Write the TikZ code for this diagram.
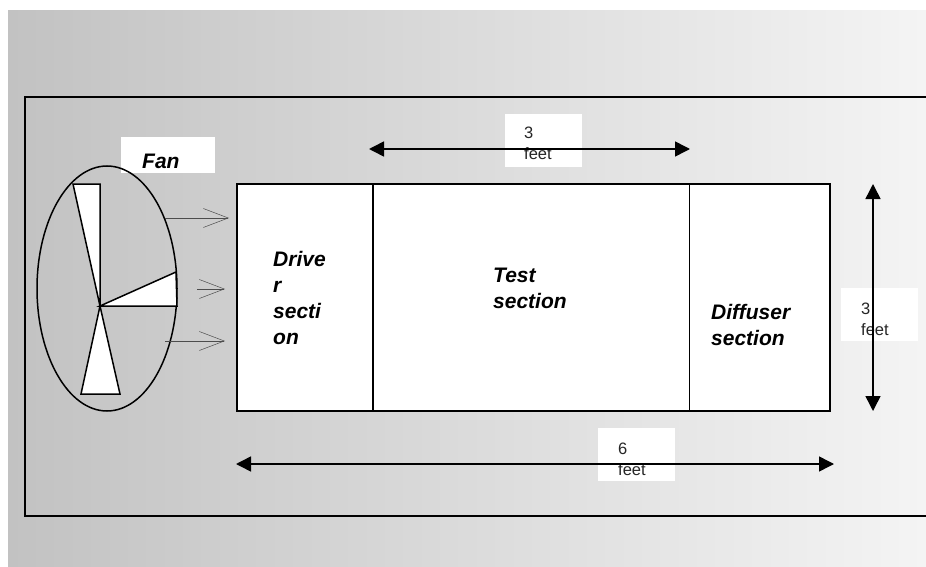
\documentclass[tikz,border=0pt]{standalone}
\usepackage{fontspec}
\setmainfont{Liberation Sans}
\usetikzlibrary{arrows.meta}
\definecolor{gleft}{RGB}{194,194,194}
\definecolor{gright}{RGB}{244,244,244}
\tikzset{
  x=1pt,y=-1pt,
  heavy/.style={draw=black,line width=1.5pt},
  blade/.style={draw=black,line width=1.5pt,fill=white,line join=miter},
  dim/.style={black,line width=1.5pt,{Triangle[length=15pt,width=15pt]}-{Triangle[length=15pt,width=15pt]}},
  flow/.style={draw=black!70,line width=.5pt,-{Straight Barb[length=25pt,width=19pt,line width=.5pt]}},
  whitebox/.style={fill=white,draw=none,inner sep=0pt,outer sep=0pt,anchor=north west},
  secbox/.style={draw=black,line width=1.5pt,fill=white,minimum height=227pt,inner sep=0pt,outer sep=0pt,anchor=north west},
  sect/.style={font=\bfseries\itshape\fontsize{21}{25.7}\selectfont,anchor=north west,inner sep=0pt,align=left},
  dimtext/.style={font=\fontsize{16.5}{20.5}\selectfont,anchor=north west,inner sep=0pt,align=left,text=black!85}
}
\begin{document}
\begin{tikzpicture}
\useasboundingbox (0,0) rectangle (926,567);
\fill[left color=gleft,right color=gright] (8,11) rectangle (926,567);
\draw[heavy,line width=1.2pt] (926,97) -- (25,97) -- (25,516) -- (926,516);
% labels behind the lines
\node[whitebox,minimum width=94pt,minimum height=36pt] (fanbox) at (121,137) {};
\node[sect] (fan) at (142,153.5) {Fan};
\node[whitebox,minimum width=77pt,minimum height=53pt] (b3a) at (505,114) {};
\node[whitebox,minimum width=77pt,minimum height=53pt] (b3b) at (841,288) {};
\node[whitebox,minimum width=77pt,minimum height=53pt] (b6) at (598,428) {};
% fan
\draw[heavy] (107,288.5) ellipse (70 and 122.5);
\coordinate (hub) at (100,306);
\draw[blade] (73,184) -- (100,184) -- (hub) -- cycle;
\draw[blade] (hub) -- (176,272) -- (177,306) -- cycle;
\draw[blade] (hub) -- (120,394) -- (81,394) -- cycle;
% sections
\node[secbox,minimum width=136pt] (driver) at (237,184) {};
\node[secbox,minimum width=316.5pt] (test) at (373,184) {};
\node[secbox,minimum width=140.5pt] (diff) at (689.5,184) {};
\fill[white] (689.7,288) rectangle (690.5,359);
\node[sect] at (273,251.5) {Drive\\r\\secti\\on};
\node[sect] at (493,268) {Test\\section};
\node[sect] at (711,304) {Diffuser\\section};
% flow arrows
\coordinate (f1s) at (165,218); \coordinate (f1e) at (229,218);
\coordinate (f2s) at (197,289); \coordinate (f2e) at (225,289);
\coordinate (f3s) at (165,341); \coordinate (f3e) at (225,341);
\draw[flow] (f1s) -- (f1e);
\draw[flow] (f2s) -- (f2e);
\draw[flow] (f3s) -- (f3e);
% dimensions
\node[dimtext] (t3a) at (524,127) {3\\feet};
\node[dimtext] (t3b) at (861,303) {3\\feet};
\node[dimtext] (t6) at (618,443) {6\\feet};
\coordinate (a1) at (369,149); \coordinate (a2) at (690,149);
\coordinate (b1) at (873,184); \coordinate (b2) at (873,411);
\coordinate (c1) at (236,464); \coordinate (c2) at (834,464);
\draw[dim] (a1) -- (a2);
\draw[dim] (b1) -- (b2);
\draw[dim] (c1) -- (c2);
\end{tikzpicture}
\end{document}
